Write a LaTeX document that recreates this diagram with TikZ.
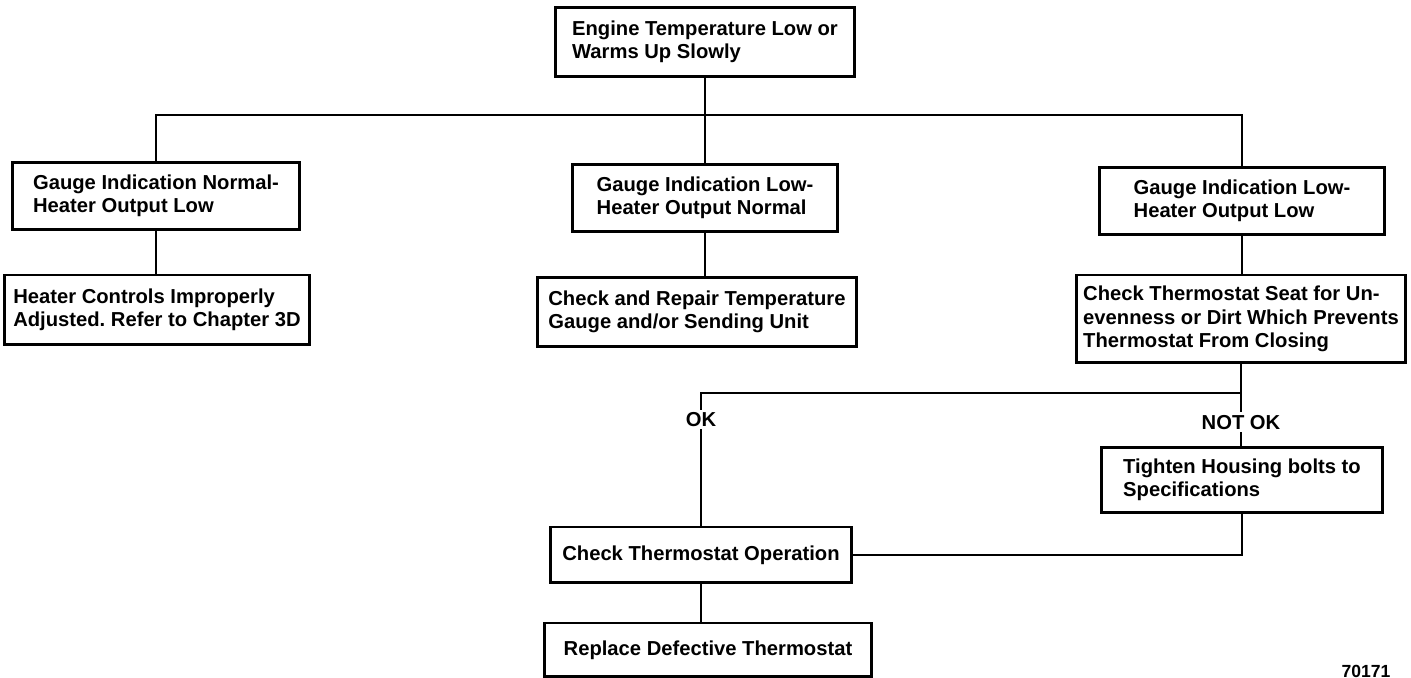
\documentclass[tikz,border=0pt]{standalone}
\usepackage{fontspec}
\setmainfont{Liberation Sans}
\usepackage{tikz}
\usetikzlibrary{positioning,calc}
\frenchspacing

\begin{document}
\begin{tikzpicture}[
    x=0.02cm, y=-0.02cm,
    box/.style={draw=black, fill=white, line width=1.7pt, align=left, inner xsep=4pt,
                font=\fontsize{11.5}{13.2}\selectfont\bfseries},
    note/.style={fill=white, inner sep=1.5pt, font=\fontsize{11.5}{13.2}\selectfont\bfseries},
    link/.style={line width=1.1pt, draw=black}
]
    \useasboundingbox (0,0) rectangle (1411,678);

    % Symptom
    \node[box, minimum width=6.0cm, minimum height=1.38cm] (engine) at (705,42) {Engine Temperature Low or\\Warms Up Slowly};

    % Gauge / heater cases
    \node[box, minimum width=5.76cm, minimum height=1.34cm] (gaugeNL) at (156,196) {Gauge Indication Normal-\\Heater Output Low};
    \node[box, minimum width=5.3cm, minimum height=1.34cm] (gaugeLN) at (705,198) {Gauge Indication Low-\\Heater Output Normal};
    \node[box, minimum width=5.7cm, minimum height=1.34cm] (gaugeLL) at (1242,201) {Gauge Indication Low-\\Heater Output Low};

    % Remedies
    \node[box, minimum width=6.1cm, minimum height=1.4cm] (controls) at (157,310) {Heater Controls Improperly\\Adjusted. Refer to Chapter 3D};
    \node[box, minimum width=6.4cm, minimum height=1.38cm] (repair) at (697,312) {Check and Repair Temperature\\Gauge and/or Sending Unit};
    \node[box, minimum width=6.34cm, minimum height=1.76cm] (seat) at (1241,319) {Check Thermostat Seat for Un-\\evenness or Dirt Which Prevents\\Thermostat From Closing};
    \node[box, minimum width=5.62cm, minimum height=1.3cm] (tighten) at (1242,480) {Tighten Housing bolts to\\Specifications};
    \node[box, minimum width=6.04cm, minimum height=1.12cm] (operation) at (701,555) {Check Thermostat Operation};
    \node[box, minimum width=6.54cm, minimum height=1.08cm] (replace) at (708,650) {Replace Defective Thermostat};

    \node[note, fill=none, font=\fontsize{10}{12}\selectfont\bfseries] (fignum) at (1366,671) {70171};

    \coordinate (bus) at (705,115);
    \coordinate (fork) at (1241,393);

    % Connections
    \draw[link] (engine.south) -- (engine.south |- gaugeLN.north);
    \draw[link] (gaugeNL.north) |- (bus) -| (gaugeLL.north);
    \draw[link] (gaugeNL.south) -- (gaugeNL.south |- controls.north);
    \draw[link] (gaugeLN.south) -- (gaugeLN.south |- repair.north);
    \draw[link] (gaugeLL.south) -- (gaugeLL.south |- seat.north);
    \draw[link] (seat.south) -- (fork) -| node[note, pos=0.6] {OK} (operation.north);
    \draw[link] (fork) -- node[note, pos=0.55] {NOT OK} (fork |- tighten.north);
    \draw[link] (tighten.south) |- (operation.east);
    \draw[link] (operation.south) -- (operation.south |- replace.north);

\end{tikzpicture}
\end{document}
